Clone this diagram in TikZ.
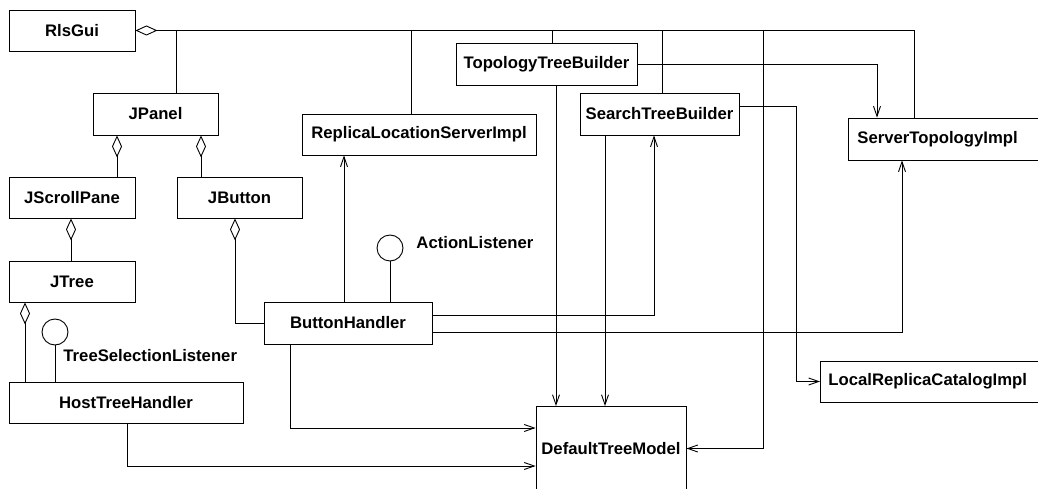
\documentclass[tikz,border=0pt]{standalone}
\usepackage{fontspec}
\setmainfont{Liberation Sans}
\usetikzlibrary{arrows.meta}
\begin{document}
\begin{tikzpicture}[x=1pt,y=-1pt,line width=0.9pt,
    font=\fontsize{16.7}{20}\selectfont\bfseries,
    cls/.style={draw,minimum height=41pt,inner sep=0pt},
    lolly/.style={draw,circle,minimum size=26pt,inner sep=0pt},
    dep/.style={-{Straight Barb[length=10pt,width=7pt]}},
    aggr/.style={{Diamond[open,length=22pt,width=10pt]}-}]
  \clip (0,0) rectangle (1038,489);
  \node[cls,minimum width=126pt] (rls) at (72,30.5) {RlsGui};
  \node[cls,minimum width=125pt,minimum height=42pt] (jpanel) at (155.5,114) {JPanel};
  \node[cls,minimum width=126pt] (scroll) at (72,197.5) {JScrollPane};
  \node[cls,minimum width=125pt] (jbutton) at (239.5,197.5) {JButton};
  \node[cls,minimum width=126pt] (jtree) at (72,281.5) {JTree};
  \node[cls,minimum width=234pt] (host) at (126,402.5) {HostTreeHandler};
  \node[cls,minimum width=168pt,minimum height=42pt] (bhandler) at (348,323) {ButtonHandler};
  \node[cls,minimum width=234pt] (rlsi) at (419,134.5) {ReplicaLocationServerImpl};
  \node[cls,minimum width=181pt,minimum height=42pt] (ttb) at (546.5,64) {TopologyTreeBuilder};
  \node[cls,minimum width=159pt,minimum height=42pt] (stb) at (659.5,114) {SearchTreeBuilder};
  \node[cls,anchor=west,inner xsep=9pt,text width=210pt,align=left,minimum height=42pt] (sti) at (848,139) {ServerTopologyImpl};
  \node[cls,anchor=west,inner xsep=8pt,text width=210pt,align=left] (lrci) at (820,381.5) {LocalReplicaCatalogImpl};
  \node[cls,minimum width=150pt,minimum height=84pt] (dtm) at (611,448.5) {DefaultTreeModel};
  \node[lolly] (tsl) at (55,332) {};
  \node[anchor=west,inner sep=0pt] (tsltext) at (63,356) {TreeSelectionListener};
  \node[lolly] (al) at (390,248) {};
  \node[anchor=west,inner sep=0pt] (altext) at (416,243) {ActionListener};

  \draw[aggr] (rls.east) -| ([xshift=66pt]sti.north west);
  \draw ([xshift=20.5pt]jpanel.north) -- ([xshift=20.5pt]jpanel.north |- rls.east);
  \draw ([xshift=-8pt]rlsi.north) -- ([xshift=-8pt]rlsi.north |- rls.east);
  \draw ([xshift=5.5pt]ttb.north) -- ([xshift=5.5pt]ttb.north |- rls.east);
  \draw ([xshift=2.5pt]stb.north) -- ([xshift=2.5pt]stb.north |- rls.east);
  \draw[dep] ([xshift=628pt]rls.east) |- (dtm.east);

  \draw[aggr] ([xshift=-38.5pt]jpanel.south) -- ([xshift=-38.5pt]jpanel.south |- scroll.north);
  \draw[aggr] ([xshift=45.5pt]jpanel.south) -- ([xshift=45.5pt]jpanel.south |- jbutton.north);
  \draw[aggr] ([xshift=-1pt]scroll.south) -- ([xshift=-1pt]scroll.south |- jtree.north);
  \draw[aggr] ([xshift=-47pt]jtree.south) -- ([xshift=-47pt]jtree.south |- host.north);
  \draw[aggr] ([xshift=-4.5pt]jbutton.south) |- (bhandler.west);

  \draw (tsl.south) -- (tsl.south |- host.north);
  \draw (al.south) -- (al.south |- bhandler.north);

  \draw[dep] ([xshift=-4pt]bhandler.north) -- ([xshift=-4pt]bhandler.north |- rlsi.south);
  \draw[dep] ([yshift=8pt]bhandler.east) -| ([xshift=-5.5pt]stb.south);
  \draw[dep] ([yshift=-9pt]bhandler.east) -| ([xshift=54pt]sti.south west);
  \draw[dep] ([xshift=-58pt]bhandler.south) |- ([yshift=20.5pt]dtm.west);
  \draw[dep] ([xshift=1pt]host.south) |- ([yshift=-17.5pt]dtm.west);

  \draw[dep] (ttb.east) -| ([xshift=29pt]sti.north west);
  \draw[dep] ([xshift=9.5pt]ttb.south) -- ([xshift=9.5pt]ttb.south |- dtm.north);
  \draw[dep] ([xshift=-54.5pt]stb.south) -- ([xshift=-54.5pt]stb.south |- dtm.north);
  \draw[dep] ([yshift=8pt]stb.east) -- ++(57,0) |- (lrci.west);
\end{tikzpicture}
\end{document}
